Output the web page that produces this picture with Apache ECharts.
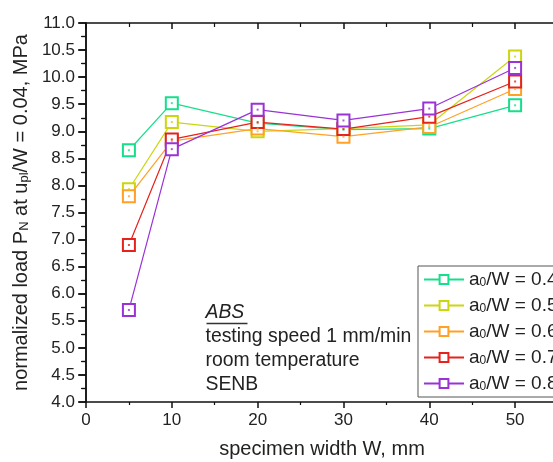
<!DOCTYPE html>
<html>
<head>
<meta charset="utf-8">
<script src="https://cdn.jsdelivr.net/npm/echarts@6/dist/echarts.min.js"></script>
<style>
html, body { margin: 0; padding: 0; background: #fff; }
#main { width: 553px; height: 462px; }
</style>
</head>
<body>
<div id="main"></div>
<script>
// specimen width W, mm
var widths = [5, 10, 20, 30, 40, 50];
// normalized load for each a0/W
var ratios = ['0.4', '0.5', '0.6', '0.7', '0.8'];
var load04 = [8.65, 9.52, 9.15, 9.03, 9.05, 9.48];
var load05 = [7.93, 9.17, 9.00, 9.05, 9.12, 10.38];
var load06 = [7.80, 8.82, 9.05, 8.90, 9.08, 9.78];
var load07 = [6.90, 8.85, 9.17, 9.04, 9.27, 9.92];
var load08 = [5.70, 8.67, 9.40, 9.20, 9.42, 10.17];
var colors = ['#16df8c', '#cbd60f', '#ffa126', '#e5231c', '#9a32d6'];

var allLoads = [load04, load05, load06, load07, load08];

function pairs(vals) {
	var d = [];
	for (var i = 0; i < widths.length; i++) {
		d.push([widths[i], vals[i]]);
	}
	return d;
}

var series = [];
var legendNames = [];
for (var k = 0; k < ratios.length; k++) {
	var name = 'a0/W = ' + ratios[k];
	legendNames.push(name);
	series.push({
		name: name,
		type: 'line',
		data: pairs(allLoads[k]),
		symbol: 'rect',
		symbolSize: 12,
		color: colors[k],
		lineStyle: { width: 1.2, color: colors[k] },
		itemStyle: { color: '#fff', borderColor: colors[k], borderWidth: 2 },
		z: 3 + k
	});
	// center dot of the square marker
	series.push({
		name: name + ' dot',
		type: 'scatter',
		data: pairs(allLoads[k]),
		symbol: 'rect',
		symbolSize: 2,
		itemStyle: { color: colors[k] },
		silent: true,
		z: 20 + k
	});
}

var font = 'Liberation Sans, Arial, sans-serif';

var myChart = echarts.init(document.getElementById('main'));

var option = {
	animation: false,
	backgroundColor: '#fff',
	grid: { left: 86, top: 23, right: -5, bottom: 60, outerBoundsMode: 'none' },
	xAxis: [{
		type: 'value',
		min: 0, max: 55, interval: 10,
		name: 'specimen width W, mm',
		nameLocation: 'middle',
		nameGap: 37,
		nameTextStyle: { fontSize: 20, color: '#222', fontFamily: font },
		axisLine: { lineStyle: { color: '#111', width: 1.5 } },
		axisTick: { inside: false, length: 6, lineStyle: { color: '#111', width: 1.5 } },
		minorTick: { show: true, splitNumber: 2, length: 3, lineStyle: { color: '#111', width: 1.2 } },
		axisLabel: { fontSize: 17, color: '#222', fontFamily: font, margin: 10, showMaxLabel: false },
		splitLine: { show: false }
	}, {
		type: 'value',
		position: 'top',
		min: 0, max: 55, interval: 10,
		axisLine: { lineStyle: { color: '#111', width: 1.5 } },
		axisTick: { inside: true, length: 6, lineStyle: { color: '#111', width: 1.5 } },
		minorTick: { show: true, splitNumber: 2, length: 4, lineStyle: { color: '#111', width: 1.2 } },
		axisLabel: { show: false },
		splitLine: { show: false }
	}],
	yAxis: [{
		type: 'value',
		min: 4, max: 11, interval: 0.5,
		name: '{t|normalized load P}{s|N}{t| at u}{s|pl}{t|/W = 0.04, MPa}',
		nameLocation: 'middle',
		nameGap: 51,
		nameTextStyle: {
			fontSize: 20, color: '#222', fontFamily: font,
			rich: {
				t: { fontSize: 20, color: '#222', fontFamily: font, verticalAlign: 'bottom', lineHeight: 24 },
				s: { fontSize: 13, color: '#222', fontFamily: font, verticalAlign: 'bottom', lineHeight: 18 }
			}
		},
		axisLine: { lineStyle: { color: '#111', width: 1.5 } },
		axisTick: { inside: false, length: 7, lineStyle: { color: '#111', width: 1.5 } },
		minorTick: { show: true, splitNumber: 2, length: 4, lineStyle: { color: '#111', width: 1.2 } },
		axisLabel: {
			fontSize: 17, color: '#222', fontFamily: font, margin: 11,
			formatter: function (v) { return v.toFixed(1); }
		},
		splitLine: { show: false }
	}, {
		type: 'value',
		position: 'right',
		min: 4, max: 11, interval: 0.5,
		axisLine: { lineStyle: { color: '#111', width: 1.5 } },
		axisTick: { inside: true, length: 8, lineStyle: { color: '#111', width: 1.5 } },
		minorTick: { show: true, splitNumber: 2, length: 5, lineStyle: { color: '#111', width: 1.2 } },
		axisLabel: { show: false },
		splitLine: { show: false }
	}],
	legend: {
		data: legendNames,
		orient: 'vertical',
		left: 418,
		top: 266,
		itemWidth: 40,
		itemHeight: 11,
		itemGap: 7,
		padding: [4, 20, 4, 5],
		borderColor: '#555',
		borderWidth: 1,
		backgroundColor: '#fff',
		formatter: function (n) {
			return '{t|a}{s|0}{t|' + n.slice(2) + '}';
		},
		textStyle: {
			fontSize: 19, color: '#222', fontFamily: font,
			rich: {
				t: { fontSize: 19, color: '#222', fontFamily: font, verticalAlign: 'bottom', lineHeight: 19 },
				s: { fontSize: 12, color: '#222', fontFamily: font, verticalAlign: 'bottom', lineHeight: 13 }
			}
		}
	},
	graphic: [{
		type: 'group',
		left: 204,
		top: 303,
		children: [
			{ type: 'text', x: 0, y: 0, style: { text: 'ABS', fontSize: 19.4, fontStyle: 'italic', fontFamily: font, fill: '#222' } },
			{ type: 'line', shape: { x1: 1, y1: 20.5, x2: 42, y2: 20.5 }, style: { stroke: '#333', lineWidth: 1.5 } },
			{ type: 'text', x: 0, y: 24, style: { text: 'testing speed 1 mm/min', fontSize: 19.4, fontFamily: font, fill: '#222' } },
			{ type: 'text', x: 0, y: 48, style: { text: 'room temperature', fontSize: 19.4, fontFamily: font, fill: '#222' } },
			{ type: 'text', x: 0, y: 72, style: { text: 'SENB', fontSize: 19.4, fontFamily: font, fill: '#222' } }
		]
	}],
	series: series
};

myChart.setOption(option);
</script>
</body>
</html>
